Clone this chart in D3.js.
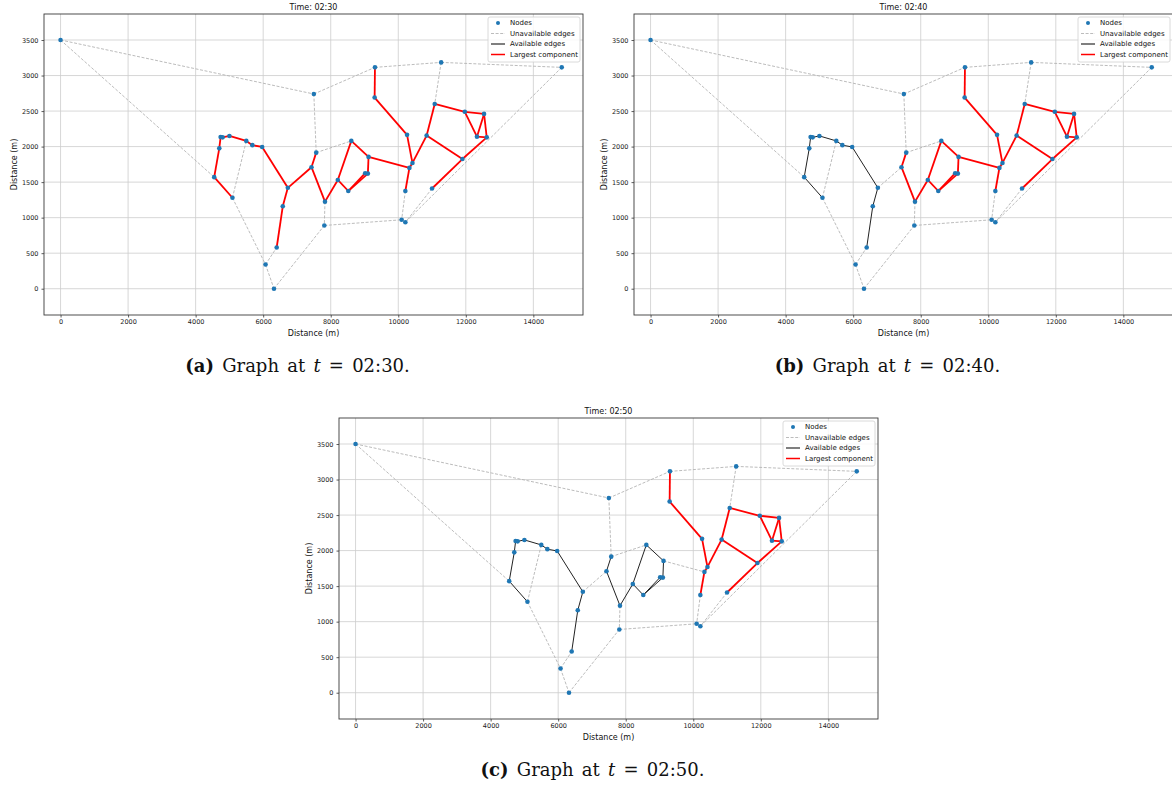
<!DOCTYPE html>
<html>
<head>
<meta charset="utf-8">
<script src="https://cdn.jsdelivr.net/npm/d3@7"></script>
<style>
  body { margin: 0; background: #fff; }
  svg { display: block; }
  .tick text { font-family: "DejaVu Sans", sans-serif; font-size: 6.5px; fill: #222; }
  .tick line { stroke: #333; stroke-width: 0.8; }
  .domain { display: none; }
</style>
</head>
<body>
<div id="chart"></div>
<script>
// node positions in metres
const nodeX = [0, 4550, 5090, 4700, 4740, 4800, 5000, 5500, 5680, 5970, 6730,
  6580, 6400, 6070, 6320, 7500, 9310, 9300, 11270, 14840, 11080,
  11970, 12540, 12330, 12620, 10260, 10840, 8610, 7570, 9120, 10420,
  10330, 11900, 7430, 9020, 9100, 8210, 8520, 10210, 11000, 7830,
  7810, 10100, 10210];
const nodeY = [3500, 1570, 1280, 1975, 2135, 2130, 2150, 2080, 2020, 1995, 1420,
  1160, 580, 340, 0, 2740, 3115, 2690, 3185, 3115, 2600,
  2490, 2460, 2140, 2130, 2165, 2155, 2080, 1915, 1855, 1770,
  1700, 1825, 1710, 1625, 1620, 1530, 1375, 1375, 1410, 1225,
  890, 970, 935];

// edges as node index pairs
const edgeList = [
  [1, 2], [1, 3], [3, 4], [4, 5], [5, 6], [6, 7], [7, 8], [8, 9], [9, 10], [10, 11], [11, 12],
  [10, 33],
  [33, 28], [33, 40], [40, 36], [36, 27], [27, 29], [29, 35], [35, 37], [34, 37], [36, 37],
  [29, 31],
  [16, 17], [17, 25], [25, 30], [30, 31], [31, 38], [30, 26], [26, 20], [20, 21], [21, 22],
  [21, 23], [23, 22], [22, 24], [23, 24], [26, 32], [32, 24], [32, 39],
  [0, 1], [0, 15], [2, 7], [2, 13], [13, 12], [13, 14], [14, 41], [40, 41], [41, 42], [42, 43],
  [38, 42], [39, 43], [19, 43], [15, 16], [15, 28], [28, 27], [16, 18], [18, 19], [18, 20]
];

// 0 = unavailable, 1 = available, 2 = largest component
const status0230 = [2,2,2,2,2,2,2,2,2,2,2, 2, 2,2,2,2,2,2,2,2,2, 2,
  2,2,2,2,2,2,2,2,2, 2,2,2,2,2,2,2,
  0,0,0,0,0,0,0,0,0,0, 0,0,0,0,0,0,0,0,0];
const status0240 = [1,1,1,1,1,1,1,1,1,1,1, 0, 2,2,2,2,2,2,2,2,2, 2,
  2,2,2,2,2,2,2,2,2, 2,2,2,2,2,2,2,
  0,0,0,0,0,0,0,0,0,0, 0,0,0,0,0,0,0,0,0];
const status0250 = [1,1,1,1,1,1,1,1,1,1,1, 0, 1,1,1,1,1,1,1,1,1, 0,
  2,2,2,2,2,2,2,2,2, 2,2,2,2,2,2,2,
  0,0,0,0,0,0,0,0,0,0, 0,0,0,0,0,0,0,0,0];

const times = ["02:30", "02:40", "02:50"];
const captionTags = ["(a)", "(b)", "(c)"];
const xTicks = [0, 2000, 4000, 6000, 8000, 10000, 12000, 14000];
const yTicks = [0, 500, 1000, 1500, 2000, 2500, 3000, 3500];
const legendLabels = ["Nodes", "Unavailable edges", "Available edges", "Largest component"];

const statuses = [status0230, status0240, status0250];
const offsets = [[0, 0], [590, 0], [295, 404]];

const W = 1172, H = 787;
const frame = { left: 44, top: 14, right: 583, bottom: 315 };

const svg = d3.select("#chart").append("svg")
  .attr("width", W).attr("height", H);
svg.append("rect").attr("width", W).attr("height", H).attr("fill", "#fff");

const x = d3.scaleLinear().domain([-490, 15470]).range([frame.left, frame.right]);
const y = d3.scaleLinear().domain([-370, 3866]).range([frame.bottom, frame.top]);

const edgeStyle = {
  0: { stroke: "#b4b4b4", width: 0.9, dash: "3,1.6" },
  1: { stroke: "#222", width: 1, dash: null },
  2: { stroke: "#ff0000", width: 1.8, dash: null }
};

times.forEach(function (time, p) {
  const g = svg.append("g")
    .attr("transform", "translate(" + offsets[p][0] + "," + offsets[p][1] + ")");

  // grid
  g.selectAll(".gx").data(xTicks).enter().append("line")
    .attr("x1", d => x(d)).attr("x2", d => x(d))
    .attr("y1", frame.top).attr("y2", frame.bottom)
    .attr("stroke", "#cdcdcd").attr("stroke-width", 0.8);
  g.selectAll(".gy").data(yTicks).enter().append("line")
    .attr("x1", frame.left).attr("x2", frame.right)
    .attr("y1", d => y(d)).attr("y2", d => y(d))
    .attr("stroke", "#cdcdcd").attr("stroke-width", 0.8);

  // edges, drawn by status so red ends on top
  const status = statuses[p];
  [0, 1, 2].forEach(function (s) {
    const st = edgeStyle[s];
    g.selectAll(".e" + s)
      .data(edgeList.filter((e, i) => status[i] === s))
      .enter().append("line")
      .attr("x1", d => x(nodeX[d[0]])).attr("y1", d => y(nodeY[d[0]]))
      .attr("x2", d => x(nodeX[d[1]])).attr("y2", d => y(nodeY[d[1]]))
      .attr("stroke", st.stroke)
      .attr("stroke-width", st.width)
      .attr("stroke-dasharray", st.dash);
  });

  // nodes
  g.selectAll(".node").data(nodeX).enter().append("circle")
    .attr("cx", d => x(d))
    .attr("cy", (d, i) => y(nodeY[i]))
    .attr("r", 2.3)
    .attr("fill", "#1f77b4");

  // axes
  g.append("g")
    .attr("transform", "translate(0," + frame.bottom + ")")
    .call(d3.axisBottom(x).tickValues(xTicks).tickFormat(d3.format("d")).tickSize(2.5).tickPadding(2));
  g.append("g")
    .attr("transform", "translate(" + frame.left + ",0)")
    .call(d3.axisLeft(y).tickValues(yTicks).tickFormat(d3.format("d")).tickSize(2.5).tickPadding(3));

  g.append("rect")
    .attr("x", frame.left).attr("y", frame.top)
    .attr("width", frame.right - frame.left).attr("height", frame.bottom - frame.top)
    .attr("fill", "none").attr("stroke", "#3a3a3a").attr("stroke-width", 0.9);

  // labels
  g.append("text")
    .attr("x", (frame.left + frame.right) / 2).attr("y", 9.5)
    .attr("text-anchor", "middle")
    .style("font-family", "DejaVu Sans, sans-serif").style("font-size", "8px").attr("fill", "#111")
    .text("Time: " + time);
  g.append("text")
    .attr("x", (frame.left + frame.right) / 2).attr("y", 336)
    .attr("text-anchor", "middle")
    .style("font-family", "DejaVu Sans, sans-serif").style("font-size", "8px").attr("fill", "#111")
    .text("Distance (m)");
  g.append("text")
    .attr("transform", "translate(17," + (frame.top + frame.bottom) / 2 + ") rotate(-90)")
    .attr("text-anchor", "middle")
    .style("font-family", "DejaVu Sans, sans-serif").style("font-size", "8px").attr("fill", "#111")
    .text("Distance (m)");

  // legend
  const lg = g.append("g");
  lg.append("rect")
    .attr("x", 488).attr("y", 17).attr("width", 92).attr("height", 45)
    .attr("rx", 2).attr("fill", "#fff").attr("fill-opacity", 0.85)
    .attr("stroke", "#d0d0d0").attr("stroke-width", 0.8);
  const rows = [23, 33.5, 44, 54.5];
  lg.append("circle").attr("cx", 498).attr("cy", rows[0]).attr("r", 2).attr("fill", "#1f77b4");
  [0, 1, 2].forEach(function (s) {
    const st = edgeStyle[s];
    lg.append("line")
      .attr("x1", 491).attr("x2", 505).attr("y1", rows[s + 1]).attr("y2", rows[s + 1])
      .attr("stroke", s === 1 ? "#555" : st.stroke)
      .attr("stroke-width", s === 0 ? 0.9 : 1.5)
      .attr("stroke-dasharray", st.dash);
  });
  lg.selectAll(".lt").data(legendLabels).enter().append("text")
    .attr("x", 510).attr("y", (d, i) => rows[i]).attr("dy", "0.35em")
    .style("font-family", "DejaVu Sans, sans-serif").style("font-size", "7px").attr("fill", "#111")
    .text(d => d);

  // caption
  const cap = g.append("text")
    .attr("x", 297.5).attr("y", 372)
    .attr("text-anchor", "middle")
    .style("font-family", "DejaVu Serif, serif").style("font-size", "18px")
    .style("word-spacing", "2.5px").attr("fill", "#111");
  cap.append("tspan").style("font-weight", "bold").text(captionTags[p]);
  cap.append("tspan").text(" Graph at ");
  cap.append("tspan").style("font-style", "italic").text("t");
  cap.append("tspan").text(" = " + time + ".");
});
</script>
</body>
</html>
